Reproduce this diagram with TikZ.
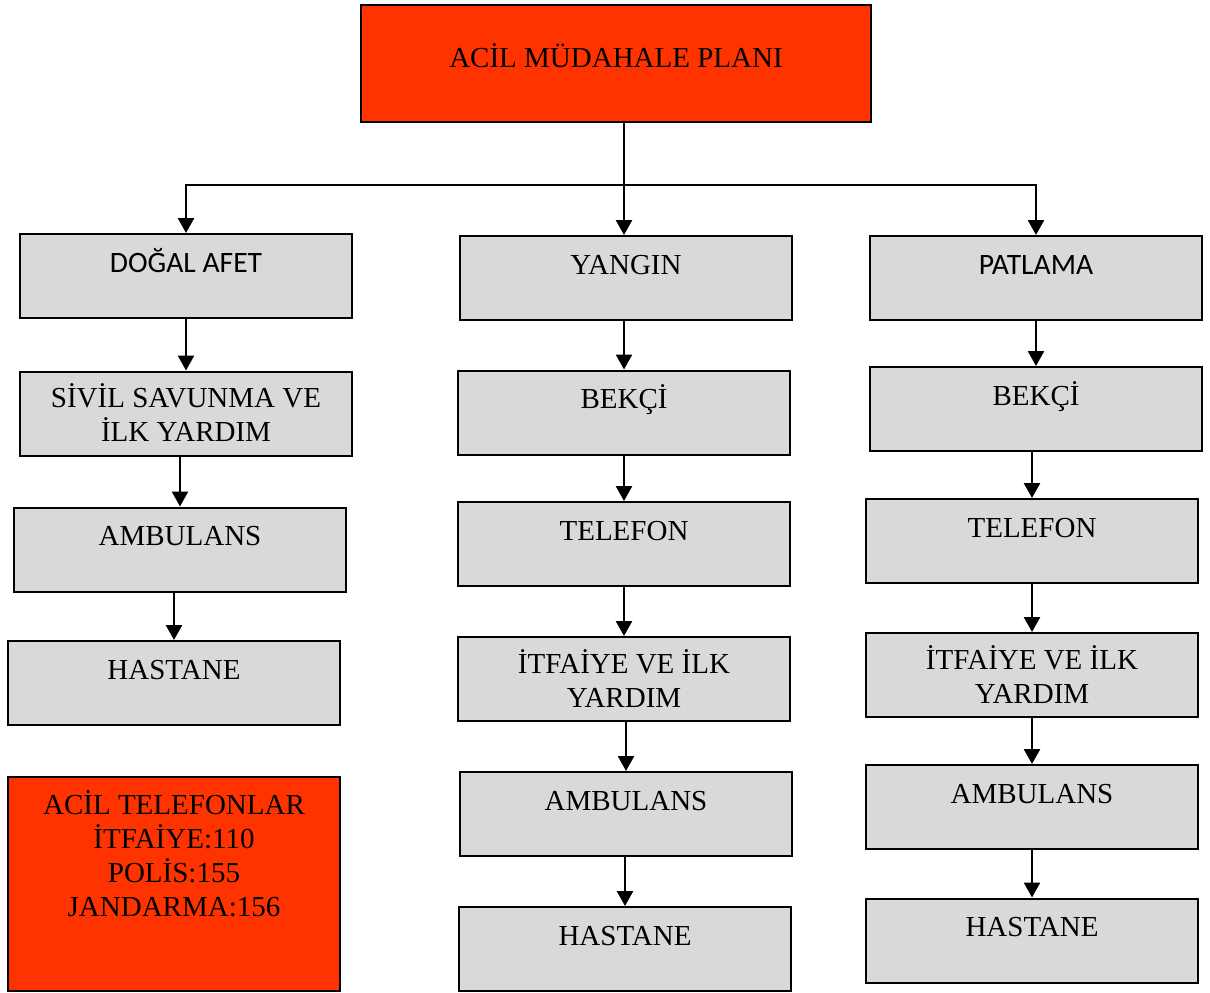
\documentclass[tikz,border=0pt]{standalone}
\usepackage{fontspec}
\setmainfont{Liberation Serif}
\newfontfamily\calfont{Carlito}
\usetikzlibrary{arrows.meta}
\definecolor{alarmred}{HTML}{FF3300}
\definecolor{stepgray}{HTML}{D9D9D9}
\tikzset{
    arrow/.style   = {-{Triangle[length=7.5pt,width=8pt]}, line width=1.3pt},
    link/.style    = {line width=1.3pt},
    stepbox/.style = {draw, line width=1pt, fill=stepgray, minimum width=166pt, minimum height=42pt, inner sep=0pt},
    redbox/.style  = {draw, line width=1pt, fill=alarmred, inner sep=0pt},
    txt/.style     = {anchor=north, inner sep=0pt, align=center, yshift=-6.5pt,
                      font=\fontsize{14.5}{17}\selectfont, execute at begin node={\rule{0pt}{13pt}}},
    sans/.style    = {font=\calfont\fontsize{14.8}{17}\selectfont}
}

\begin{document}
\begin{tikzpicture}[x=0.5pt, y=-0.5pt]

    \useasboundingbox (0,0) rectangle (1210,992);

    % ---------- plan header ----------
    \node[redbox, minimum width=255pt, minimum height=58.5pt,
          label={[txt, yshift=-12.25pt]north:ACİL MÜDAHALE PLANI}] (plan) at (616,63.5) {};
    \coordinate (hub) at (624,185);

    % =================================================
    % 1. Left column: natural disaster
    % =================================================
    \node[stepbox, label={[txt, sans]north:DOĞAL AFET}] (afet) at (186,276) {};
    \node[stepbox, label={[txt]north:SİVİL SAVUNMA VE\\İLK YARDIM}] (sivil) at (186,413.5) {};
    \node[stepbox, label={[txt]north:AMBULANS}] (ambA) at (180,549.5) {};
    \node[stepbox, label={[txt]north:HASTANE}] (hasA) at (174,683) {};

    % emergency numbers
    \node[redbox, minimum width=166pt, minimum height=107pt,
          label={[txt, yshift=-0.75pt]north:ACİL TELEFONLAR\\İTFAİYE:110\\POLİS:155\\JANDARMA:156}] (phones) at (174,884) {};

    % =================================================
    % 2. Middle column: fire
    % =================================================
    \node[stepbox, label={[txt]north:YANGIN}] (yangin) at (626,278) {};
    \node[stepbox, label={[txt]north:BEKÇİ}] (bekciB) at (624,412.5) {};
    \node[stepbox, label={[txt]north:TELEFON}] (telB) at (624,544) {};
    \node[stepbox, label={[txt]north:İTFAİYE VE İLK\\YARDIM}] (itfB) at (624,679) {};
    \node[stepbox, label={[txt]north:AMBULANS}] (ambB) at (626,814) {};
    \node[stepbox, label={[txt]north:HASTANE}] (hasB) at (625,949) {};

    % =================================================
    % 3. Right column: explosion
    % =================================================
    \node[stepbox, label={[txt, sans]north:PATLAMA}] (patlama) at (1036,278) {};
    \node[stepbox, label={[txt]north:BEKÇİ}] (bekciC) at (1036,409) {};
    \node[stepbox, label={[txt]north:TELEFON}] (telC) at (1032,541) {};
    \node[stepbox, label={[txt]north:İTFAİYE VE İLK\\YARDIM}] (itfC) at (1032,675) {};
    \node[stepbox, label={[txt]north:AMBULANS}] (ambC) at (1032,807) {};
    \node[stepbox, label={[txt]north:HASTANE}] (hasC) at (1032,940.5) {};

    % =================================================
    % 4. Connectors
    % =================================================
    \draw[link] (plan.south -| hub) -- (hub);
    \draw[arrow] (hub) -| (afet.north);
    \draw[arrow] (hub) -| (patlama.north);
    \draw[arrow] (hub) -- (yangin.north -| hub);

    \draw[arrow] (afet.south -| sivil.north) -- (sivil.north);
    \draw[arrow] (sivil.south -| ambA.north) -- (ambA.north);
    \draw[arrow] (ambA.south -| hasA.north) -- (hasA.north);

    \draw[arrow] (yangin.south -| bekciB.north) -- (bekciB.north);
    \draw[arrow] (bekciB.south -| telB.north) -- (telB.north);
    \draw[arrow] (telB.south -| itfB.north) -- (itfB.north);
    \draw[arrow] (itfB.south -| ambB.north) -- (ambB.north);
    \draw[arrow] (ambB.south -| hasB.north) -- (hasB.north);

    \draw[arrow] (patlama.south -| bekciC.north) -- (bekciC.north);
    \draw[arrow] (bekciC.south -| telC.north) -- (telC.north);
    \draw[arrow] (telC.south -| itfC.north) -- (itfC.north);
    \draw[arrow] (itfC.south -| ambC.north) -- (ambC.north);
    \draw[arrow] (ambC.south -| hasC.north) -- (hasC.north);

\end{tikzpicture}
\end{document}
